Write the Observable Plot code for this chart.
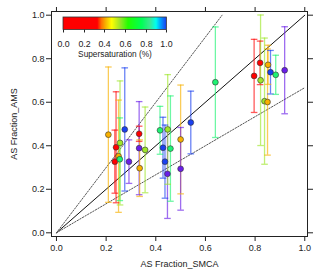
<!DOCTYPE html>
<html><head><meta charset="utf-8">
<script src="https://cdn.jsdelivr.net/npm/d3@7"></script>
<script src="https://cdn.jsdelivr.net/npm/@observablehq/plot@0.6"></script>
<style>
body{margin:0;background:#fff;}
#wrap{position:relative;width:320px;height:271px;font-family:"Liberation Sans",Arial,sans-serif;}
#legend{position:absolute;left:55px;top:15px;}
#sslabel{position:absolute;left:55px;width:120px;top:49px;text-align:center;font-size:8.3px;color:#222;}
</style></head><body><div id="wrap"><div id="plot"></div><div id="legend"></div><div id="sslabel">Supersaturation (%)</div></div>
<script>
// ---- data ----
const smca     = [0.209,0.235,0.240,0.250,0.255,0.256,0.275,0.292,0.333,0.333,0.335,0.357,0.417,0.429,0.437,0.447,0.448,0.459,0.500,0.500,0.541,0.640,0.796,0.820,0.822,0.838,0.852,0.850,0.862,0.883,0.919];
const ams      = [0.451,0.327,0.393,0.352,0.338,0.413,0.475,0.327,0.455,0.389,0.297,0.381,0.471,0.391,0.327,0.271,0.475,0.387,0.429,0.294,0.507,0.692,0.721,0.781,0.701,0.605,0.772,0.601,0.738,0.726,0.747];
const amsErr   = [0.311,0.145,0.255,0.258,0.190,0.285,0.283,0.100,0.035,0.214,0.130,0.197,0.110,0.140,0.168,0.205,0.252,0.242,0.250,0.190,0.144,0.254,0.168,0.100,0.300,0.290,0.090,0.244,0.100,0.090,0.200];
const supersat = [0.41,0.2,0.2,0.41,0.8,0.55,1.0,1.1,0.2,1.1,0.41,0.55,0.8,1.0,1.0,1.1,0.55,0.8,0.41,1.1,1.0,0.8,0.2,0.2,0.55,0.55,0.41,0.41,1.0,0.8,1.1];

const xTicks  = [0, 0.2, 0.4, 0.6, 0.8, 1.0];
const yTicks  = [0, 0.2, 0.4, 0.6, 0.8, 1.0];
const ssTicks = [0, 0.2, 0.4, 0.6, 0.8, 1.0];

// reference lines: 1:1, 1.5:1, 1:1.5
const oneX = [0, 1],     oneY = [0, 1];
const upX  = [0, 0.667], upY  = [0, 1];
const loX  = [0, 1],     loY  = [0, 0.667];

// colour table (Igor-like rainbow)
const ssStops  = [0, 0.33, 0.37, 0.41, 0.47, 0.55, 0.63, 0.76, 0.84, 0.9, 0.94, 1.0, 1.1];
const ssColors = ["#ff0000","#ff0000","#ff7000","#f8b000","#ffff00","#9ee62a","#22ff00","#00ff55","#3ce890","#00ffee","#00aaff","#1a40f0","#6a1ee8"];
const ssColor = d3.scaleLinear(ssStops, ssColors).clamp(true);

const data = smca.map((x, i) => ({x, y: ams[i], e: amsErr[i], ss: supersat[i]}));
const line = (xs, ys) => xs.map((x, i) => ({x, y: ys[i]}));

const capSymbol = {draw(ctx, size) { const w = Math.sqrt(size / Math.PI); ctx.moveTo(-w, 0); ctx.lineTo(w, 0); }};
const font = "Liberation Sans, Arial, sans-serif";

const chart = Plot.plot({
  width: 320, height: 271,
  marginLeft: 51, marginRight: 13, marginTop: 11, marginBottom: 35,
  style: {fontFamily: font, fontSize: "9px", color: "#222", background: "#fff"},
  x: {domain: [-0.02, 1.011]},
  y: {domain: [-0.017, 1.017]},
  color: {type: "linear", domain: [0, 1], interpolate: ssColor},
  marks: [
    Plot.line(line(oneX, oneY), {x: "x", y: "y", stroke: "#111", strokeWidth: 1}),
    Plot.line(line(upX, upY), {x: "x", y: "y", stroke: "#555", strokeWidth: 1, strokeDasharray: "1.5,1.5"}),
    Plot.line(line(loX, loY), {x: "x", y: "y", stroke: "#555", strokeWidth: 1, strokeDasharray: "1.5,1.5"}),
    Plot.ruleX(data, {x: "x", y1: d => d.y - d.e, y2: d => d.y + d.e, stroke: "ss", strokeWidth: 1.3, strokeOpacity: 0.65}),
    Plot.dot(data, {x: "x", y: d => d.y + d.e, symbol: capSymbol, r: 3.3, fill: "none", stroke: "ss", strokeWidth: 1.3, strokeOpacity: 0.65}),
    Plot.dot(data, {x: "x", y: d => d.y - d.e, symbol: capSymbol, r: 3.3, fill: "none", stroke: "ss", strokeWidth: 1.3, strokeOpacity: 0.65}),
    Plot.dot(data, {x: "x", y: "y", r: 2.9, fill: "ss", stroke: "#333", strokeWidth: 0.6}),
    Plot.frame({stroke: "#222", strokeWidth: 1}),
    Plot.axisX({anchor: "bottom", ticks: xTicks, tickSize: 5, tickPadding: 3, tickFormat: ".1f", fontSize: 9,
      label: "AS Fraction_SMCA", labelAnchor: "center", labelArrow: "none", labelOffset: 30}),
    Plot.axisX({anchor: "top", ticks: xTicks, tickSize: 5, tickFormat: () => "", label: null}),
    Plot.axisY({anchor: "left", ticks: yTicks, tickSize: 5, tickPadding: 2, tickFormat: ".1f", fontSize: 9,
      label: "AS Fraction_AMS", labelAnchor: "center", labelArrow: "none", labelOffset: 41}),
    Plot.axisY({anchor: "right", ticks: yTicks, tickSize: 5, tickFormat: () => "", label: null})
  ]
});
document.getElementById("plot").appendChild(chart);

const leg = Plot.legend({
  color: {type: "linear", domain: [0, 1], interpolate: ssColor},
  label: null, ticks: ssTicks, tickFormat: ".1f", tickSize: 8,
  width: 119.4, height: 32.5, marginLeft: 8, marginRight: 8, marginTop: 2, marginBottom: 18,
  style: {fontFamily: font, fontSize: "8.8px", color: "#222", background: "transparent"}
});
document.getElementById("legend").appendChild(leg);
// short tick marks below the ramp, and a thin outline round it
d3.select(leg).selectAll(".tick line").attr("y1", 0).attr("y2", 3);
const img = leg.querySelector("image");
if (img) {
  d3.select(leg).append("rect")
    .attr("x", img.getAttribute("x")).attr("y", img.getAttribute("y"))
    .attr("width", img.getAttribute("width")).attr("height", img.getAttribute("height"))
    .attr("fill", "none").attr("stroke", "#333").attr("stroke-width", 0.8);
}
</script>
</body></html>
